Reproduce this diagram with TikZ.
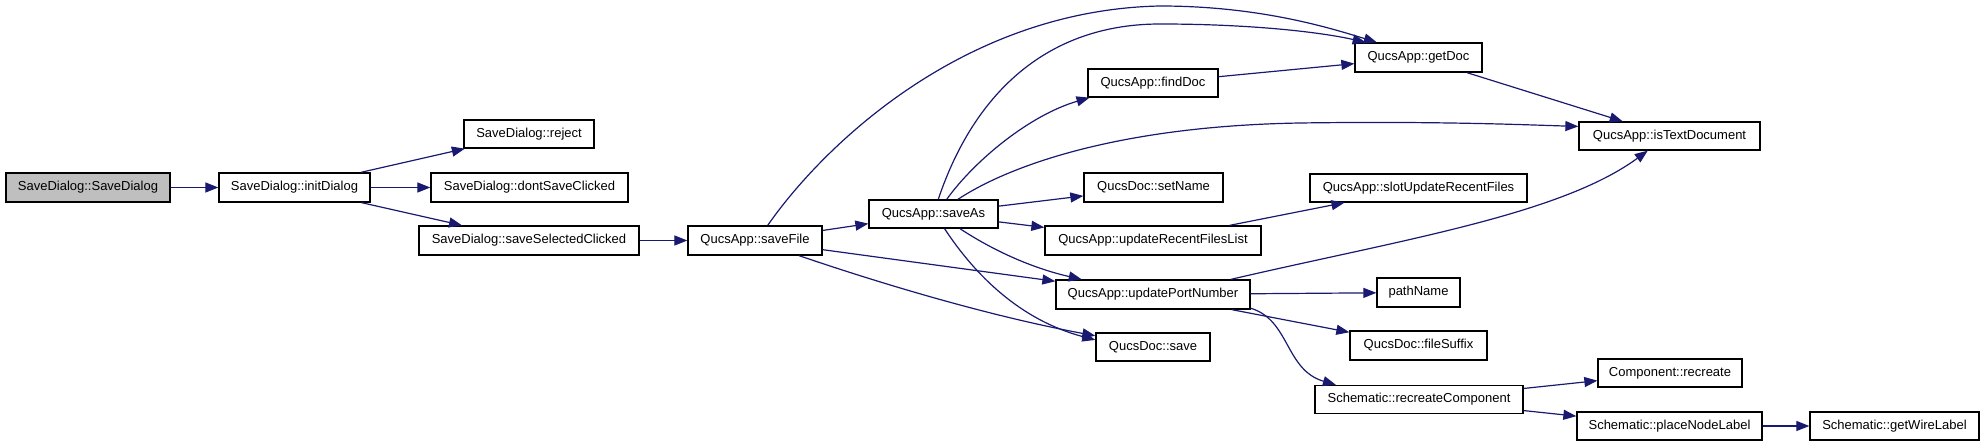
\documentclass[tikz,border=0pt]{standalone}
\usepackage{fontspec}
\setmainfont{Liberation Sans}
\usetikzlibrary{arrows.meta}
\definecolor{edgec}{HTML}{191970}
\definecolor{rootfill}{HTML}{BFBFBF}
\begin{document}
\begin{tikzpicture}[x=1pt,y=-1pt,
  box/.style={draw=black, line width=1.3pt, fill=white, rectangle, inner sep=0pt,
    font=\fontsize{13}{15}\selectfont, text=black},
  edge/.style={draw=edgec, line width=1.2pt, -{Triangle[length=13pt,width=10pt]}},
]
\useasboundingbox (0,0) rectangle (1984,446);
% nodes
\node[box, fill=rootfill, minimum width=164pt, minimum height=29pt] (SD) at (88,187.5) {SaveDialog::SaveDialog};
\node[box, minimum width=151pt, minimum height=29pt] (ID) at (294.5,187.5) {SaveDialog::initDialog};
\node[box, minimum width=130pt, minimum height=28pt] (RJ) at (529,134) {SaveDialog::reject};
\node[box, minimum width=197pt, minimum height=29pt] (DS) at (529.5,187.5) {SaveDialog::dontSaveClicked};
\node[box, minimum width=220pt, minimum height=29pt] (SS) at (529,240.5) {SaveDialog::saveSelectedClicked};
\node[box, minimum width=134pt, minimum height=29pt] (SF) at (755,240.5) {QucsApp::saveFile};
\node[box, minimum width=129pt, minimum height=28pt] (SA) at (933.5,214) {QucsApp::saveAs};
\node[box, minimum width=130pt, minimum height=28pt] (FD) at (1153,83) {QucsApp::findDoc};
\node[box, minimum width=127pt, minimum height=29pt] (GD) at (1418.5,57.5) {QucsApp::getDoc};
\node[box, minimum width=181pt, minimum height=28pt] (IT) at (1669.5,136) {QucsApp::isTextDocument};
\node[box, minimum width=139pt, minimum height=29pt] (SN) at (1153.5,187.5) {QucsDoc::setName};
\node[box, minimum width=216pt, minimum height=29pt] (UR) at (1153,240.5) {QucsApp::updateRecentFilesList};
\node[box, minimum width=217pt, minimum height=28pt] (SU) at (1418.5,188) {QucsApp::slotUpdateRecentFiles};
\node[box, minimum width=194pt, minimum height=29pt] (UP) at (1153,294.5) {QucsApp::updatePortNumber};
\node[box, minimum width=83pt, minimum height=29pt] (PN) at (1418.5,292.5) {pathName};
\node[box, minimum width=114pt, minimum height=28pt] (QS) at (1153,347) {QucsDoc::save};
\node[box, minimum width=137pt, minimum height=29pt] (FS) at (1418.5,345.5) {QucsDoc::fileSuffix};
\node[box, minimum width=208pt, minimum height=28pt] (RC) at (1419,399.5) {Schematic::recreateComponent};
\node[box, minimum width=144pt, minimum height=28pt] (CR) at (1670,373) {Component::recreate};
\node[box, minimum width=185pt, minimum height=28pt] (PL) at (1669.5,426) {Schematic::placeNodeLabel};
\node[box, minimum width=169pt, minimum height=28pt] (GW) at (1894.5,426) {Schematic::getWireLabel};
% straight edges
\draw[edge] (SD) -- (ID);
\draw[edge] (ID) -- (RJ);
\draw[edge] (ID) -- (DS);
\draw[edge] (ID) -- (SS);
\draw[edge] (SS) -- (SF);
\draw[edge] (SF) -- (SA);
\draw[edge] (SF) -- (UP);
\draw[edge] (SA) -- (SN);
\draw[edge] (SA) -- (UR);
\draw[edge] (FD) -- (GD);
\draw[edge] (GD) -- (IT);
\draw[edge] (UR) -- (SU);
\draw[edge] (UP) -- (PN);
\draw[edge] (UP) -- (FS);
\draw[edge] (RC) -- (CR);
\draw[edge] (RC) -- (PL);
\draw[edge] (PL) -- (GW);
% curved edges
\draw[edge] (SF.50.4) .. controls (820,150) and (960,10) .. (1160,6)
  .. controls (1260,6) and (1330,28) .. (GD.160.3);
\draw[edge] (SA.72.2) .. controls (975,90) and (1050,24) .. (1160,24)
  .. controls (1250,24) and (1320,32) .. (GD.164.3);
\draw[edge] (SA.48.2) .. controls (975,160) and (1030,115) .. (FD.-167.7);
\draw[edge] (SA.31.9) .. controls (1010,165) and (1120,126) .. (1300,123)
  .. controls (1440,121) and (1530,125) .. (IT.174.9);
\draw[edge] (SA.-29.7) .. controls (1000,255) and (1040,270) .. (UP.168);
\draw[edge] (SA.-53.1) .. controls (975,275) and (1020,320) .. (QS.173);
\draw[edge] (SF.-19.5) .. controls (900,290) and (1000,318) .. (QS.169);
\draw[edge] (UP.11.4) .. controls (1400,240) and (1560,215) .. (IT.-146.9);
\draw[edge] (UP.-8.96) .. controls (1290,320) and (1285,370) .. (RC.170.9);
\end{tikzpicture}
\end{document}
